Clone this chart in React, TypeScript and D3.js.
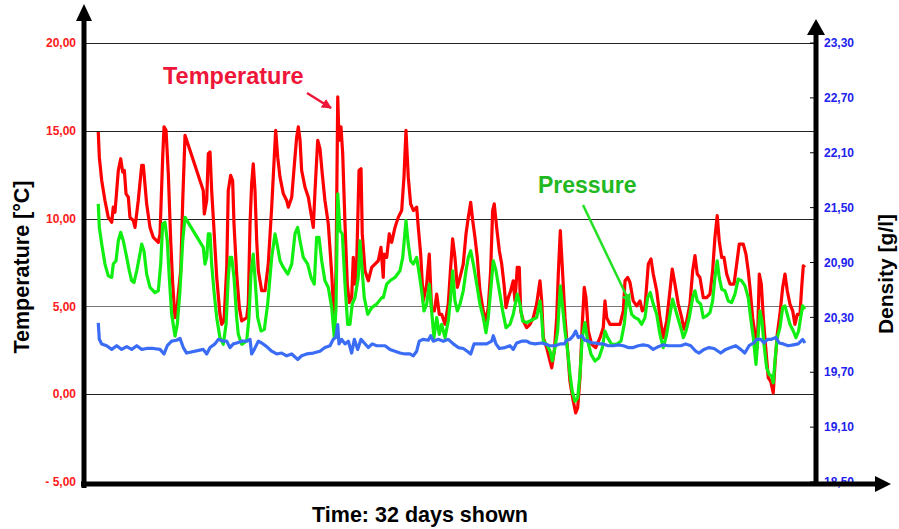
import React from 'react';
import * as d3 from 'd3';

// time in hours since start (32 days = 768 h), temperature / pressure in °C scale, density in g/l
const temperature: [number, number][] = [
  [16.0, 14.93], [17.1, 13.5], [19.6, 12.17], [23.0, 11.03], [26.5, 10.07], [30.1, 9.79], [31.7, 10.65], [33.5, 10.36],
  [37.0, 12.74], [39.5, 13.41], [41.6, 12.65], [43.3, 12.74], [45.1, 11.41], [47.5, 11.22], [49.2, 10.07], [52.7, 9.89],
  [54.5, 9.5], [57.9, 11.03], [61.5, 13.03], [63.2, 13.03], [66.7, 10.84], [70.2, 9.5], [73.7, 8.93], [78.9, 8.65],
  [80.7, 9.13], [83.5, 13.5], [84.9, 15.22], [87.0, 15.03], [89.4, 12.55], [91.9, 8.74], [94.0, 6.27], [96.4, 4.36],
  [98.2, 4.55], [99.8, 5.7], [102.4, 7.03], [104.5, 11.03], [106.9, 14.74], [126.0, 11.6], [127.1, 10.27], [129.6, 11.03],
  [131.3, 13.7], [133.1, 13.79], [134.8, 11.6], [136.5, 10.07], [140.1, 6.65], [143.5, 4.55], [145.3, 3.98], [147.7, 4.17],
  [150.6, 7.22], [152.2, 11.6], [154.7, 12.46], [156.8, 12.17], [158.2, 9.7], [161.0, 6.84], [163.8, 4.93], [166.3, 4.17],
  [171.5, 4.36], [173.2, 5.13], [175.0, 9.7], [176.7, 11.98], [178.4, 13.12], [180.2, 11.6], [182.0, 8.74], [183.7, 7.03],
  [187.2, 5.89], [190.7, 5.89], [194.1, 7.41], [197.7, 10.65], [200.4, 13.5], [201.9, 15.03], [204.0, 13.5], [206.4, 12.36],
  [209.9, 11.41], [213.4, 11.03], [215.1, 10.65], [218.7, 11.22], [222.1, 13.5], [223.9, 14.65], [225.6, 15.22], [227.4, 14.46],
  [229.1, 12.74], [232.6, 11.79], [236.1, 11.22], [238.9, 10.27], [241.3, 9.5], [243.1, 11.6], [245.9, 14.46], [248.3, 13.98],
  [250.7, 12.55], [253.5, 11.03], [257.0, 9.7], [260.6, 6.84], [263.3, 3.98], [265.1, 7.03], [266.9, 16.93], [268.2, 14.46],
  [270.3, 15.22], [272.1, 13.7], [274.5, 9.7], [276.9, 6.27], [279.0, 5.22], [281.5, 5.5], [283.2, 7.79], [285.0, 6.27],
  [286.8, 7.6], [289.2, 12.74], [291.3, 12.84], [292.6, 9.13], [295.5, 7.03], [298.9, 6.46], [302.5, 7.22], [305.9, 7.41],
  [309.4, 7.6], [312.2, 8.36], [314.6, 6.65], [315.4, 7.98], [318.2, 7.79], [320.9, 9.13], [323.4, 8.65], [326.9, 9.5],
  [330.3, 10.07], [333.9, 10.46], [336.3, 12.36], [338.4, 15.03], [340.8, 12.36], [343.3, 10.84], [346.1, 10.46], [349.6, 10.65],
  [351.3, 9.5], [353.8, 7.98], [356.5, 5.31], [360.1, 6.27], [362.8, 7.98], [365.3, 4.74], [368.1, 4.74], [370.6, 5.7],
  [373.3, 4.55], [375.8, 4.55], [379.3, 3.98], [382.7, 5.13], [385.2, 7.22], [387.3, 8.84], [389.7, 7.79], [392.2, 6.08],
  [395.0, 6.65], [398.4, 7.41], [401.3, 9.13], [403.7, 10.07], [406.2, 10.93], [408.3, 9.89], [410.7, 8.93], [413.1, 7.79],
  [415.9, 5.89], [419.4, 4.74], [422.2, 4.17], [424.6, 4.93], [427.1, 7.03], [429.2, 10.46], [430.9, 10.84], [433.4, 9.5],
  [436.2, 8.17], [438.7, 7.41], [441.1, 6.27], [443.2, 4.93], [445.6, 5.5], [448.1, 5.89], [450.8, 6.46], [452.6, 5.31],
  [455.0, 7.22], [457.1, 7.22], [458.6, 4.74], [461.3, 4.17], [464.9, 3.79], [468.3, 3.98], [471.8, 4.36], [475.3, 5.13],
  [478.8, 6.46], [480.6, 5.31], [482.3, 3.22], [485.8, 2.65], [489.3, 1.89], [491.1, 1.5], [493.8, 2.46], [496.3, 4.36],
  [498.0, 6.84], [500.1, 9.31], [502.2, 7.22], [505.0, 4.36], [507.8, 2.46], [510.2, 0.74], [513.7, -0.4], [516.2, -1.07],
  [518.3, -0.78], [520.7, 0.93], [523.1, 3.98], [525.2, 6.08], [527.0, 5.5], [529.4, 3.6], [533.0, 2.84], [537.2, 2.65],
  [541.7, 3.22], [545.1, 3.79], [546.9, 5.31], [548.7, 4.36], [552.1, 3.98], [557.4, 3.98], [562.6, 3.98], [566.1, 4.74],
  [567.9, 6.46], [570.7, 6.65], [573.1, 6.36], [576.5, 5.31], [580.1, 5.03], [583.6, 5.31], [586.0, 4.74], [588.8, 4.93],
  [592.3, 7.41], [595.1, 7.7], [597.5, 6.84], [601.1, 5.89], [604.5, 4.36], [608.0, 3.22], [611.5, 4.17], [615.0, 5.89],
  [617.4, 7.13], [620.2, 6.27], [623.7, 5.13], [627.3, 4.36], [629.7, 3.7], [632.5, 4.17], [635.9, 5.13], [638.8, 7.03],
  [641.2, 7.89], [643.6, 6.84], [646.4, 6.65], [649.9, 5.5], [653.4, 5.5], [656.9, 5.7], [659.7, 7.03], [662.1, 8.93],
  [664.5, 10.17], [666.6, 8.74], [669.2, 7.79], [671.6, 7.79], [674.4, 6.84], [677.9, 6.27], [682.1, 6.27], [684.9, 7.41],
  [687.6, 8.55], [691.8, 8.55], [694.6, 7.98], [697.0, 7.03], [698.8, 6.08], [701.6, 4.36], [704.1, 3.41], [706.5, 2.65],
  [708.6, 6.84], [710.7, 6.27], [712.8, 4.36], [715.6, 2.46], [718.0, 0.93], [720.5, 0.74], [723.2, 0.07], [725.0, 1.7],
  [727.4, 3.41], [730.2, 4.55], [733.1, 6.08], [735.5, 6.84], [737.9, 5.89], [740.7, 5.13], [743.6, 4.74], [745.9, 3.98],
  [748.4, 4.55], [751.2, 4.55], [753.0, 6.08], [754.7, 7.31], [756.4, 7.22],
];

const pressure: [number, number][] = [
  [16.0, 10.84], [17.1, 9.5], [19.6, 8.55], [23.0, 7.41], [26.5, 6.74], [30.1, 6.65], [31.7, 7.41], [34.6, 7.6],
  [37.0, 8.74], [39.5, 9.22], [42.2, 8.74], [45.8, 7.79], [48.5, 7.03], [51.0, 6.46], [53.4, 6.36], [56.3, 7.03],
  [59.0, 7.79], [61.5, 8.55], [63.9, 8.17], [66.7, 6.84], [70.2, 6.08], [75.4, 5.79], [78.9, 5.89], [81.4, 7.41],
  [83.5, 9.7], [85.9, 9.79], [88.3, 8.74], [90.4, 6.65], [92.9, 4.55], [96.4, 3.31], [98.8, 3.98], [101.6, 5.89],
  [104.5, 8.74], [106.9, 10.07], [126.0, 8.36], [127.8, 7.41], [129.6, 7.79], [131.3, 9.13], [133.1, 9.13], [134.8, 7.41],
  [137.2, 5.89], [140.1, 4.36], [143.5, 3.22], [147.0, 2.84], [149.9, 3.98], [152.2, 6.65], [154.0, 7.79], [155.8, 7.79],
  [158.2, 6.65], [161.0, 4.36], [162.7, 3.41], [166.3, 2.84], [171.5, 3.03], [173.9, 4.36], [176.0, 6.84], [178.4, 7.98],
  [180.2, 6.65], [183.0, 4.36], [186.5, 3.6], [190.0, 3.7], [193.5, 5.13], [197.7, 7.79], [201.2, 9.13], [204.0, 8.36],
  [206.4, 7.6], [209.9, 7.22], [214.5, 6.84], [218.7, 7.41], [222.1, 9.13], [224.9, 9.5], [227.4, 8.74], [230.8, 7.79],
  [235.4, 7.41], [238.9, 6.65], [242.3, 6.27], [244.8, 8.93], [247.3, 8.93], [250.1, 7.6], [253.5, 6.46], [257.0, 6.08],
  [260.6, 4.93], [263.3, 3.22], [265.1, 4.93], [266.9, 11.41], [269.3, 9.31], [271.7, 9.13], [274.5, 6.27], [277.3, 3.98],
  [279.7, 3.98], [282.1, 5.13], [285.0, 5.5], [288.4, 6.65], [290.2, 8.74], [292.0, 7.41], [294.7, 5.5], [298.3, 4.55],
  [302.5, 4.93], [307.7, 5.13], [313.0, 5.5], [314.6, 5.5], [318.2, 6.27], [321.6, 6.46], [326.9, 6.65], [332.1, 7.03],
  [335.0, 7.79], [338.4, 9.89], [340.8, 8.55], [343.3, 7.6], [346.1, 7.41], [349.6, 7.79], [352.3, 6.84], [354.8, 5.89],
  [357.3, 4.74], [360.1, 5.13], [362.8, 6.27], [365.3, 4.74], [367.7, 3.22], [370.6, 4.36], [373.3, 3.41], [375.8, 3.98],
  [379.3, 3.22], [382.7, 4.17], [385.2, 5.5], [387.3, 7.03], [389.7, 5.31], [392.2, 4.74], [395.0, 5.13], [398.4, 5.89],
  [401.3, 7.03], [403.7, 7.79], [406.2, 8.17], [409.0, 7.41], [412.5, 6.27], [415.9, 5.13], [419.4, 4.36], [422.2, 3.5],
  [424.6, 4.36], [427.1, 5.89], [429.9, 7.6], [432.7, 7.03], [436.2, 5.89], [439.7, 4.74], [443.2, 3.79], [447.4, 3.98],
  [450.8, 4.55], [455.0, 5.7], [457.8, 5.13], [460.6, 4.17], [464.9, 4.08], [468.3, 4.17], [471.8, 4.27], [475.3, 4.36],
  [478.8, 5.31], [480.6, 4.36], [482.3, 3.03], [485.8, 2.84], [489.3, 2.46], [491.7, 1.89], [494.5, 2.65], [497.3, 3.6],
  [500.1, 6.17], [502.2, 5.13], [505.0, 3.6], [507.8, 2.46], [510.2, 1.13], [512.6, 0.17], [515.5, -0.4], [518.3, -0.21],
  [520.7, 1.13], [523.1, 3.22], [525.9, 4.08], [528.8, 3.03], [532.3, 2.27], [536.4, 1.89], [540.6, 2.08], [544.1, 2.65],
  [546.9, 3.6], [549.7, 3.22], [553.9, 2.84], [559.2, 2.84], [563.7, 3.03], [567.1, 3.98], [569.6, 5.31], [572.1, 5.22],
  [574.9, 4.55], [578.3, 4.36], [581.8, 4.27], [585.3, 3.98], [588.8, 4.36], [591.6, 5.5], [594.4, 5.79], [597.5, 5.13],
  [601.1, 4.55], [604.5, 3.41], [608.0, 2.65], [611.5, 3.41], [615.0, 4.55], [617.8, 5.41], [620.2, 4.93], [623.7, 4.27],
  [627.3, 3.6], [629.0, 3.22], [631.8, 3.6], [635.2, 4.36], [638.8, 5.5], [641.2, 5.89], [643.6, 5.31], [647.2, 5.13],
  [649.9, 4.36], [653.4, 4.46], [656.9, 4.65], [659.7, 5.31], [662.1, 6.65], [664.5, 7.6], [666.6, 6.65], [669.2, 5.98],
  [672.6, 5.89], [676.1, 5.31], [679.6, 5.22], [683.1, 5.7], [686.5, 6.55], [690.1, 6.46], [693.6, 6.17], [697.0, 5.5],
  [699.5, 4.36], [702.3, 3.22], [705.1, 1.7], [707.2, 3.22], [709.3, 4.74], [711.4, 4.17], [713.5, 2.84], [716.3, 1.5],
  [719.0, 1.13], [721.5, 1.03], [723.2, 0.65], [725.3, 2.08], [727.4, 3.22], [730.2, 3.79], [733.1, 4.93], [735.5, 5.03],
  [737.9, 4.55], [740.7, 3.98], [744.2, 3.6], [747.0, 3.22], [749.8, 3.6], [751.9, 4.36], [754.0, 5.03], [756.4, 4.84],
];

const density: [number, number][] = [
  [16.0, 20.24], [17.1, 20.06], [19.6, 20.01], [24.8, 19.99], [30.1, 19.95], [35.3, 19.99], [40.5, 19.95], [45.8, 19.98],
  [51.0, 19.95], [56.3, 19.99], [61.5, 19.95], [66.7, 19.96], [73.7, 19.96], [80.7, 19.95], [84.9, 19.9], [88.3, 19.99],
  [92.9, 20.04], [98.2, 20.05], [101.6, 20.07], [105.1, 19.97], [108.6, 19.91], [126.0, 19.95], [129.6, 19.9], [133.1, 19.97],
  [138.3, 20.01], [141.8, 20.06], [147.0, 20.04], [150.6, 20.04], [154.0, 19.97], [157.5, 20.01], [161.0, 20.02], [166.3, 20.04],
  [171.5, 20.04], [175.0, 20.06], [176.7, 19.9], [179.5, 19.95], [183.7, 20.04], [187.2, 20.02], [192.5, 19.98], [197.7, 19.93],
  [202.9, 19.9], [208.2, 19.91], [213.4, 19.88], [218.7, 19.9], [224.9, 19.84], [229.1, 19.88], [234.4, 19.9], [241.3, 19.91],
  [248.3, 19.93], [253.5, 19.97], [258.8, 19.99], [262.2, 20.06], [264.8, 20.08], [266.9, 20.22], [268.2, 20.01], [271.0, 20.06],
  [274.5, 20.01], [278.0, 20.04], [281.5, 19.91], [284.3, 20.06], [287.8, 19.95], [291.3, 20.06], [294.7, 20.02], [298.9, 19.97],
  [303.1, 20.01], [307.7, 19.99], [313.0, 19.99], [316.4, 19.99], [321.6, 19.95], [326.9, 19.93], [332.1, 19.91], [337.4, 19.9],
  [342.6, 19.9], [346.1, 19.88], [349.6, 19.93], [352.3, 20.04], [356.5, 20.06], [361.8, 20.05], [364.3, 20.1], [367.0, 20.04],
  [372.3, 20.06], [377.5, 20.04], [382.7, 20.06], [388.0, 20.01], [393.2, 19.97], [398.4, 19.96], [402.6, 19.93], [406.2, 19.9],
  [409.7, 20.01], [415.9, 20.01], [422.9, 20.01], [428.2, 20.04], [429.9, 20.1], [432.7, 20.01], [436.2, 19.96], [442.1, 19.97],
  [447.4, 19.99], [450.8, 19.95], [454.4, 20.02], [459.6, 20.04], [464.9, 20.04], [468.3, 20.02], [473.6, 20.01], [480.6, 20.02],
  [484.0, 20.01], [489.3, 19.99], [494.5, 19.99], [499.8, 20.01], [504.3, 20.01], [506.8, 20.05], [510.2, 20.06], [513.7, 20.1],
  [516.2, 20.15], [518.9, 20.08], [522.5, 20.1], [525.9, 20.05], [529.4, 20.04], [533.0, 20.02], [537.2, 20.02], [540.6, 20.01],
  [545.1, 20.01], [550.4, 19.99], [555.6, 19.99], [560.9, 20.0], [566.1, 19.99], [571.3, 19.97], [576.5, 19.97], [581.8, 19.99],
  [587.0, 20.0], [592.3, 19.99], [597.5, 19.95], [602.8, 19.98], [608.0, 20.0], [613.3, 19.99], [618.5, 19.99], [626.3, 19.99],
  [631.5, 20.01], [636.8, 19.99], [642.0, 19.93], [645.5, 19.91], [650.7, 19.95], [655.9, 19.97], [661.2, 19.96], [668.2, 19.91],
  [673.4, 19.95], [678.7, 19.97], [683.9, 19.99], [689.1, 19.95], [693.4, 19.91], [697.9, 19.99], [702.5, 20.02], [706.0, 20.06],
  [710.2, 20.06], [713.6, 20.02], [717.2, 20.06], [721.4, 20.06], [725.9, 20.08], [729.5, 20.02], [733.7, 20.01], [738.9, 19.99],
  [744.2, 20.0], [749.4, 20.01], [754.0, 20.06], [756.4, 20.02],
];

const tempTicks = [20, 15, 10, 5, 0, -5];
const densityTicks = [23.3, 22.7, 22.1, 21.5, 20.9, 20.3, 19.7, 19.1, 18.5];

const FONT = "'Liberation Sans', Arial, Helvetica, sans-serif";

const fmt = (v: number, digits: number) => {
  const s = Math.abs(v).toFixed(digits).replace('.', ',');
  return v < 0 ? '- ' + s : s;
};

export default function App() {
  const x = d3.scaleLinear().domain([0, 768]).range([83, 816]);
  const yT = d3.scaleLinear().domain([-5, 20]).range([482, 43]);
  const yD = d3.scaleLinear().domain([18.5, 23.3]).range([482, 43]);

  const lineT = d3.line<[number, number]>().x(d => x(d[0])).y(d => yT(d[1]));
  const lineD = d3.line<[number, number]>().x(d => x(d[0])).y(d => yD(d[1]));

  const axisL = 84;
  const axisR = 816;
  const axisB = 484;

  return (
    <svg
      width={899}
      height={529}
      style={{ position: 'absolute', left: 0, top: 0, display: 'block', background: '#fff' }}
      fontFamily={FONT}
    >
      <defs>
        <marker id="arrRed" viewBox="0 0 10 10" refX="9" refY="5" markerWidth="4" markerHeight="4" orient="auto">
          <path d="M0,0 L10,5 L0,10 Z" fill="#ee1639" />
        </marker>
        <marker id="arrGreen" viewBox="0 0 10 10" refX="9" refY="5" markerWidth="4" markerHeight="4" orient="auto">
          <path d="M0,0 L10,5 L0,10 Z" fill="#22e022" />
        </marker>
      </defs>

      {/* gridlines */}
      {tempTicks.filter(t => t > -5).map(t => (
        <line key={'g' + t} x1={axisL} x2={axisR} y1={Math.round(yT(t)) + 0.5} y2={Math.round(yT(t)) + 0.5}
          stroke={t === 5 ? '#777' : '#222'} strokeWidth={1} />
      ))}

      {/* series */}
      <path d={lineT(temperature) || ''} fill="none" stroke="#ff0000" strokeWidth={3.2} strokeLinejoin="round" />
      <path d={lineT(pressure) || ''} fill="none" stroke="#11ee11" strokeWidth={3.2} strokeLinejoin="round" />
      <path d={lineD(density) || ''} fill="none" stroke="#3b6cf5" strokeWidth={3.2} strokeLinejoin="round" />

      {/* left axis */}
      <line x1={axisL} x2={axisL} y1={axisB + 4} y2={18} stroke="#000" strokeWidth={5} />
      <path d={`M${axisL},4 L${axisL - 8},21 L${axisL + 8},21 Z`} fill="#000" />
      {tempTicks.map(t => (
        <text key={'lt' + t} x={76} y={yT(t)} dy="0.35em" textAnchor="end" fill="#ff1a1a"
          fontSize={12} fontWeight="bold">{fmt(t, 2)}</text>
      ))}

      {/* right axis */}
      {densityTicks.map(t => (
        <line key={'rk' + t} x1={axisR - 6} x2={axisR} y1={yD(t)} y2={yD(t)} stroke="#000" strokeWidth={1} />
      ))}
      {densityTicks.map(t => (
        <text key={'rt' + t} x={824} y={yD(t)} dy="0.35em" textAnchor="start" fill="#2222ee"
          fontSize={12} fontWeight="bold">{fmt(t, 2)}</text>
      ))}
      <line x1={axisR} x2={axisR} y1={axisB + 2} y2={32} stroke="#000" strokeWidth={5} />
      <path d={`M${axisR},19 L${axisR - 9},35 L${axisR + 9},35 Z`} fill="#000" />

      {/* bottom axis */}
      <line x1={axisL - 3} x2={878} y1={axisB} y2={axisB} stroke="#000" strokeWidth={5} />
      <path d={`M891,${axisB} L875,${axisB - 8} L875,${axisB + 8} Z`} fill="#000" />

      {/* axis titles */}
      <text transform="translate(28.5,267) rotate(-90)" textAnchor="middle" fontSize={21.5} fontWeight="bold" fill="#000">
        Temperature [°C]
      </text>
      <text transform="translate(893,274) rotate(-90)" textAnchor="middle" fontSize={21} fontWeight="bold" fill="#000">
        Density [g/l]
      </text>
      <text x={420} y={522} textAnchor="middle" fontSize={21.5} fontWeight="bold" fill="#000">
        Time: 32 days shown
      </text>

      {/* annotations */}
      <text x={163} y={84} fontSize={23.5} fontWeight="bold" fill="#ee1639">Temperature</text>
      <line x1={307} y1={93} x2={331} y2={108} stroke="#ee1639" strokeWidth={2.5} markerEnd="url(#arrRed)" />
      <text x={538} y={193} fontSize={23} fontWeight="bold" fill="#22b822">Pressure</text>
      <line x1={583} y1={205} x2={630} y2={303} stroke="#22e022" strokeWidth={2.5} markerEnd="url(#arrGreen)" />
    </svg>
  );
}
